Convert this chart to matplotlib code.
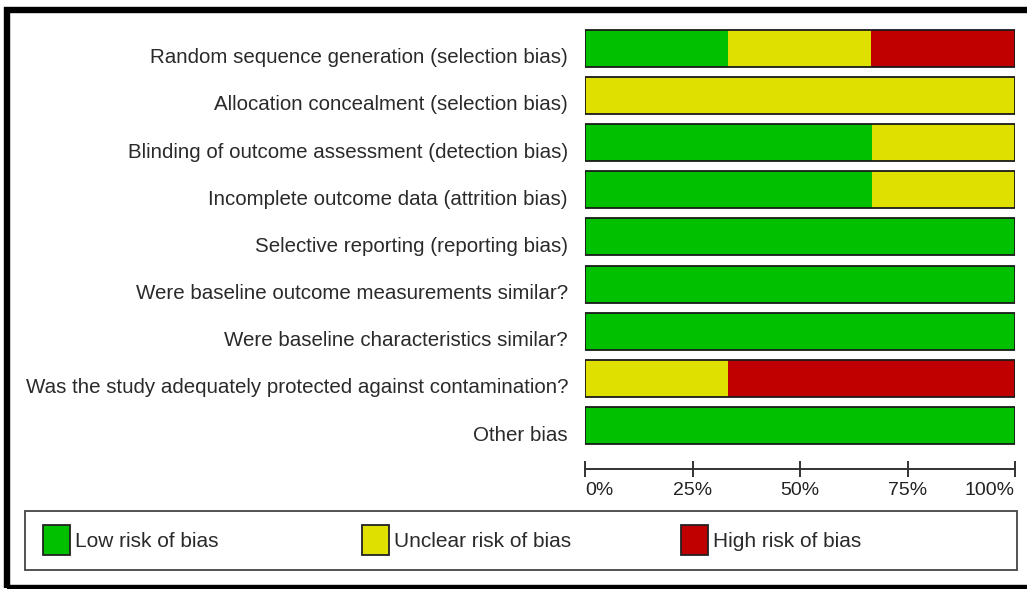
import matplotlib
matplotlib.use("Agg")
import matplotlib.pyplot as plt
from matplotlib.patches import Rectangle
from matplotlib.transforms import offset_copy

plt.rcParams['font.family'] = ['Liberation Sans', 'DejaVu Sans']

domains = [
    "Random sequence generation (selection bias)",
    "Allocation concealment (selection bias)",
    "Blinding of outcome assessment (detection bias)",
    "Incomplete outcome data (attrition bias)",
    "Selective reporting (reporting bias)",
    "Were baseline outcome measurements similar?",
    "Were baseline characteristics similar?",
    "Was the study adequately protected against contamination?",
    "Other bias",
]
low = [33.3, 0, 66.7, 66.7, 100, 100, 100, 0, 100]
unclear = [33.3, 100, 33.3, 33.3, 0, 0, 0, 33.3, 0]
high = [33.4, 0, 0, 0, 0, 0, 0, 66.7, 0]
tick_vals = [0, 25, 50, 75, 100]
tick_labels = ["0%", "25%", "50%", "75%", "100%"]
legend_labels = ["Low risk of bias", "Unclear risk of bias", "High risk of bias"]
colors = ["#00C000", "#E0E000", "#C00000"]

W, H = 1027, 589
fig = plt.figure(figsize=(W / 100, H / 100), dpi=100)

def fx(px):
    return px / W

def fy(py):
    return 1 - py / H

# outer frame (thick black, open to the right edge)
fig.patches.append(Rectangle((fx(7), fy(588)), fx(1060), (588 - 9.5) / H,
                             transform=fig.transFigure, fill=False, edgecolor="black",
                             linewidth=4.6))

left, right = 585, 1015
top, bottom = 24.7, 449.1
ax = fig.add_axes([fx(left), fy(bottom), fx(right - left), (bottom - top) / H])
y = list(range(len(domains)))
lefts = [0] * len(domains)
bh = 0.785
for vals, c in zip([low, unclear, high], colors):
    ax.barh(y, vals, left=lefts, height=bh, color=c, edgecolor="none", linewidth=0)
    lefts = [a + b for a, b in zip(lefts, vals)]
ax.barh(y, [100] * len(domains), height=bh, fill=False, edgecolor="#1a1a1a", linewidth=1.3)

ax.set_xlim(0, 100)
ax.set_ylim(len(domains) - 0.5, -0.5)
ax.set_yticks([])
lab_tr = offset_copy(ax.get_yaxis_transform(), fig=fig, x=-17, y=-15, units='dots')
for yi, d in zip(y, domains):
    ax.text(0, yi, d, transform=lab_tr, ha='right', va='baseline', fontsize=14.8, color="#2a2a2a")
for s in ['top', 'right', 'left']:
    ax.spines[s].set_visible(False)
ax.spines['bottom'].set_position(('outward', 14.4))
ax.spines['bottom'].set_color("#333333")
ax.spines['bottom'].set_linewidth(1.4)
ax.set_xticks(tick_vals)
ax.set_xticklabels(tick_labels, fontsize=14, color="#222222")
ax.tick_params(axis='x', direction='inout', length=11, width=1.4, color="#333333", pad=4)
lbls = ax.get_xticklabels()
lbls[0].set_horizontalalignment('left')
lbls[-1].set_horizontalalignment('right')
ax.patch.set_visible(False)

# legend box
fig.patches.append(Rectangle((fx(25), fy(570)), fx(1017 - 25), (570 - 511) / H,
                             transform=fig.transFigure, fill=False, edgecolor="#444444",
                             linewidth=1.3))
for lx, tx, lab, c in zip([43, 362, 681], [75, 394, 713], legend_labels, colors):
    fig.patches.append(Rectangle((fx(lx), fy(555)), fx(27), 30 / H, transform=fig.transFigure,
                                 facecolor=c, edgecolor="#222222", linewidth=1.3))
    fig.text(fx(tx), fy(547), lab, fontsize=15, color="#2a2a2a", va='baseline', ha='left')

fig.savefig("out.png", dpi=100)
